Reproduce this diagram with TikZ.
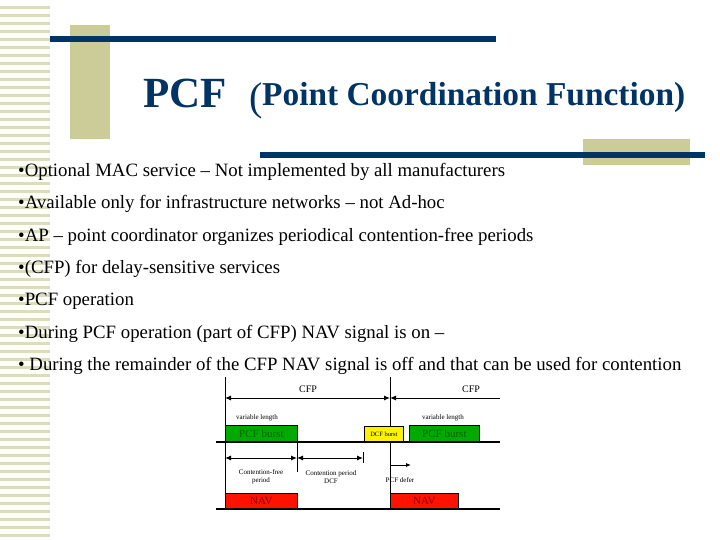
\documentclass[tikz,border=0pt]{standalone}
\usepackage{fontspec}
\setmainfont{Liberation Serif}
\usetikzlibrary{arrows.meta}
\definecolor{navy}{RGB}{0,51,102}
\definecolor{olive}{RGB}{204,204,153}
\definecolor{stripe}{RGB}{221,221,187}
\definecolor{gb}{RGB}{0,170,0}
\definecolor{gt}{RGB}{0,100,0}
\begin{document}
\begin{tikzpicture}[x=1pt,y=-1pt,
 bul/.style={anchor=west,font=\fontsize{18.8}{18}\selectfont,inner sep=0},
 sm/.style={font=\fontsize{7}{8}\selectfont,align=center,inner sep=0},
 box/.style={draw=black,line width=0.8pt,inner sep=0,anchor=north west},
 dim/.style={line width=1pt,{Latex[length=6pt,width=5pt]}-{Latex[length=6pt,width=5pt]}},
 thick1/.style={line width=1.8pt}]
\useasboundingbox (0,0) rectangle (720,540);
\fill[white] (0,0) rectangle (720,540);
\foreach \y in {6,14,...,540} \fill[stripe] (0,\y) rectangle (50,\y+3);
\fill[olive] (70,25) rectangle (110,139);
\fill[navy] (50,36) rectangle (496,42);
\fill[olive] (583,139) rectangle (690,165);
\fill[navy] (260,152) rectangle (705,158);
\node[anchor=base west,inner sep=0,text=navy,font=\bfseries\fontsize{43}{43}\selectfont] (t1) at (143,108) {PCF};
\node[anchor=base west,inner sep=0,text=navy,font=\fontsize{40}{40}\selectfont] (t0) at (249,111) {(};
\node[anchor=base west,inner sep=0,text=navy] (t2) at (262,106) {\resizebox{423pt}{!}{\bfseries\fontsize{26}{26}\selectfont Point Coordination Function)}};
\node[bul] (b1) at (18,172) {•Optional MAC service – Not implemented by all manufacturers};
\node[bul] (b2) at (18,204) {•Available only for infrastructure networks – not Ad-hoc};
\node[bul] (b3) at (18,237) {•AP – point coordinator organizes periodical contention-free periods};
\node[bul] (b4) at (18,269) {•(CFP) for delay-sensitive services};
\node[bul] (b5) at (18,301) {•PCF operation};
\node[bul] (b6) at (18,334) {•During PCF operation (part of CFP) NAV signal is on –};
\node[bul] (b7) at (18,366) {• During the remainder of the CFP NAV signal is off and that can be used for contention};
% diagram
\coordinate (v1t) at (225,377); \coordinate (v1b) at (225,509);
\coordinate (v2t) at (390,377); \coordinate (v2b) at (390,493);
\draw[line width=0.8pt] (v1t) -- (v1b);
\draw[line width=0.8pt] (v2t) -- (v2b);
\node[font=\fontsize{10}{10}\selectfont] (c1) at (308,389) {CFP};
\node[font=\fontsize{10}{10}\selectfont] (c2) at (471,389) {CFP};
\coordinate (a1) at (225,398); \coordinate (a2) at (390,398); \coordinate (a3) at (500,398);
\draw[dim] (a1) -- (a2);
\draw[line width=1pt,{Latex[length=6pt,width=5pt]}-] (a2) -- (a3);
\node[sm] (vl1) at (257,418) {variable length};
\node[sm] (vl2) at (443,418) {variable length};
\node[box,fill=gb,minimum width=72pt,minimum height=16pt,text=gt,font=\fontsize{11}{11}\selectfont] (p1) at (225,425) {PCF burst};
\node[box,fill=yellow,minimum width=39pt,minimum height=15pt,font=\fontsize{6.5}{7}\selectfont] (d1) at (364,426) {DCF burst};
\node[box,fill=gb,minimum width=70pt,minimum height=16pt,text=gt,font=\fontsize{11}{11}\selectfont] (p2) at (409,425) {PCF burst};
\coordinate (l1a) at (216,442); \coordinate (l1b) at (500,442);
\draw[thick1] (l1a) -- (l1b);
\coordinate (t1a) at (297,442); \coordinate (t1b) at (297,472);
\draw[line width=0.8pt] (t1a) -- (t1b);
\coordinate (t2a) at (363,452); \coordinate (t2b) at (363,463);
\draw[line width=0.8pt] (t2a) -- (t2b);
\coordinate (r1) at (225,458); \coordinate (r2) at (297,458); \coordinate (r3) at (363,458);
\draw[dim] (r1) -- (r2);
\draw[dim] (r2) -- (r3);
\node[sm] (cf) at (261,477) {Contention-free\\period};
\node[sm] (cp) at (331,477) {Contention period\\DCF};
\coordinate (pd1) at (390,465); \coordinate (pd2) at (411,465);
\draw[line width=0.8pt,-{Latex[length=5pt,width=4pt]}] (pd1) -- (pd2);
\node[sm] (pdl) at (400,480) {PCF defer};
\node[box,fill=red!85!orange,minimum width=72pt,minimum height=15pt,text=red!50!black,font=\fontsize{11}{11}\selectfont] (n1) at (225,493) {NAV};
\node[box,fill=red!85!orange,minimum width=68pt,minimum height=15pt,text=red!50!black,font=\fontsize{11}{11}\selectfont] (n2) at (390,493) {NAV};
\coordinate (l2a) at (216,509); \coordinate (l2b) at (500,509);
\draw[thick1] (l2a) -- (l2b);
\end{tikzpicture}
\end{document}
